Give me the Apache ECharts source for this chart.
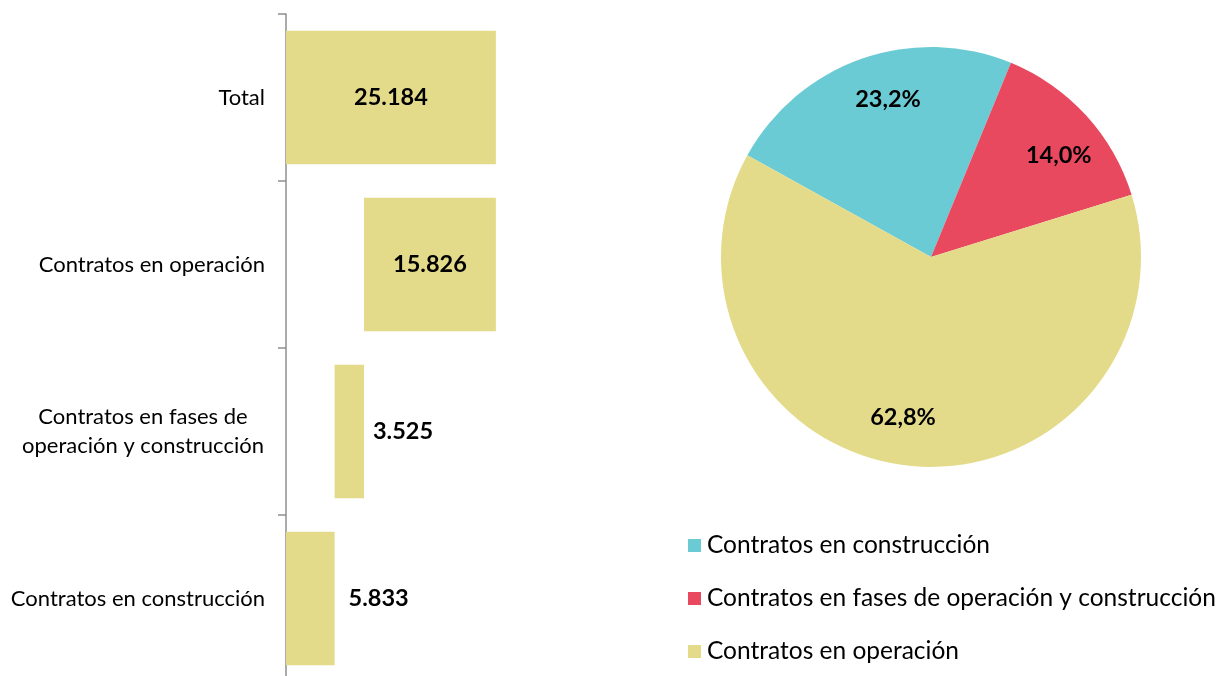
<!DOCTYPE html>
<html>
<head>
<meta charset="utf-8">
<script src="https://cdn.jsdelivr.net/npm/echarts@6/dist/echarts.min.js"></script>
<style>
  html, body { margin: 0; padding: 0; background: #fff; }
  #chart { width: 1220px; height: 676px; }
</style>
</head>
<body>
<div id="chart"></div>
<script>
// datos (de abajo hacia arriba en el eje)
const categories = ['Contratos en construcción', 'Contratos en fases de\noperación y construcción', 'Contratos en operación', 'Total'];
const contractValues = [5833, 3525, 15826, 25184];
const pieNames = ['Contratos en construcción', 'Contratos en fases de operación y construcción', 'Contratos en operación'];
const pieValues = [5833, 3525, 15826];

const colors = { cyan: '#6BCBD4', red: '#E9495F', yellow: '#E3DB8A' };
const FONT = 'Lato';

// base invisible de la cascada (acumulado de los tramos anteriores, Total parte de 0)
const baseValues = [];
let acc = 0;
contractValues.forEach((v, i) => {
    if (i === contractValues.length - 1) { baseValues.push(0); return; }
    baseValues.push(acc);
    acc += v;
});

const fmtNum = v => String(v).replace(/\B(?=(\d{3})+(?!\d))/g, '.');

const chart = echarts.init(document.getElementById('chart'));

const barData = contractValues.map((v, i) => {
    const outside = i < 2;
    return {
        value: v,
        label: outside ? { position: 'right', distance: i === 0 ? 14 : 9 } : { position: 'inside' }
    };
});

chart.setOption({
    animation: false,
    grid: { left: 286, top: 14, width: 250, height: 668, outerBoundsMode: 'none' },
    xAxis: { type: 'value', min: 0, max: 30000, show: false },
    yAxis: {
        type: 'category',
        data: categories,
        axisLine: { lineStyle: { color: '#8F8F8F', width: 1.5 } },
        axisTick: { show: true, length: 8, lineStyle: { color: '#8F8F8F', width: 1.5 } },
        axisLabel: {
            margin: 21,
            color: '#000',
            fontFamily: FONT,
            fontSize: 22,
            lineHeight: 29,
            formatter: v => v.indexOf('\n') >= 0 ? v.split('\n').map(s => '{c|' + s + '}').join('\n') : v,
            rich: { c: { width: 244, align: 'center', fontFamily: FONT, fontSize: 22, lineHeight: 29, color: '#000' } }
        }
    },
    legend: {
        orient: 'vertical',
        left: 688,
        top: 533,
        padding: 0,
        icon: 'rect',
        itemWidth: 13,
        itemHeight: 13,
        itemGap: 28,
        textStyle: { fontFamily: FONT, fontSize: 24.5, lineHeight: 24, color: '#000', padding: [0, 0, 0, 1] },
        data: pieNames,
        selectedMode: false
    },
    series: [
        {
            type: 'bar', stack: 'w', data: baseValues, barWidth: '80%',
            itemStyle: { color: 'rgba(0,0,0,0)' }, silent: true
        },
        {
            type: 'bar', stack: 'w', data: barData, barWidth: '80%',
            itemStyle: { color: colors.yellow },
            label: {
                show: true, color: '#000', fontFamily: FONT, fontWeight: 'bold', fontSize: 23.5,
                formatter: p => fmtNum(p.value)
            }
        },
        {
            type: 'pie',
            center: [931, 257],
            radius: [0, 210],
            startAngle: 151,
            data: pieNames.map((n, i) => ({ name: n, value: pieValues[i] })),
            color: [colors.cyan, colors.red, colors.yellow],
            label: { show: false },
            labelLine: { show: false },
            silent: true
        },
        {
            // capa transparente solo para colocar las etiquetas más hacia el borde
            type: 'pie',
            center: [931, 257],
            radius: [110, 210],
            startAngle: 147,
            data: pieNames.map((n, i) => ({ name: n, value: pieValues[i] })),
            itemStyle: { color: 'rgba(0,0,0,0)' },
            label: {
                show: true, position: 'inside', color: '#000', fontFamily: FONT, fontWeight: 'bold', fontSize: 23.5,
                formatter: p => p.percent.toFixed(1).replace('.', ',') + '%'
            },
            labelLine: { show: false },
            silent: true,
            legendHoverLink: false
        }
    ]
});
</script>
</body>
</html>
